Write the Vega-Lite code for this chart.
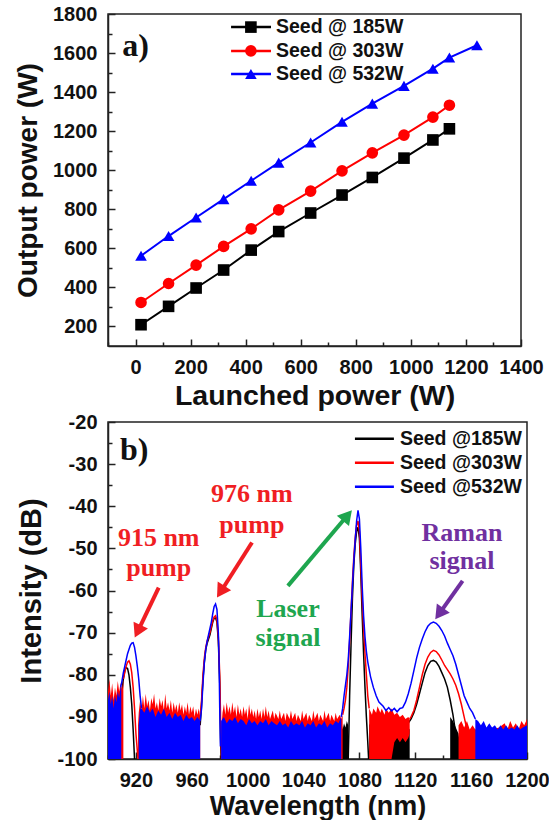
{
  "$schema": "https://vega.github.io/schema/vega-lite/v6.json",
  "background": "white",
  "padding": {"left": 13, "top": 3, "right": 0, "bottom": 0},
  "spacing": 76,
  "bounds": "flush",
  "config": {
    "view": {"stroke": "#222", "strokeWidth": 1.5},
    "axis": {"labelFont": "Liberation Sans", "labelFontSize": 20, "labelFontWeight": "bold", "labelColor": "#111", "titleFont": "Liberation Sans", "titleFontSize": 27, "titleFontWeight": "bold", "titleColor": "#111", "domainColor": "#222", "domainWidth": 1.5, "tickColor": "#222", "tickWidth": 1.5, "tickSize": -7, "labelPadding": 18, "grid": false, "labelFlush": false, "labelOverlap": false, "labelBound": false},
    "axisX": {"titlePadding": 3},
    "axisY": {"titlePadding": 10, "titleFontSize": 28}
  },
  "datasets": {
    "power": [
      {"launched": 20, "output": 209, "s": "185"}, {"launched": 120, "output": 303, "s": "185"}, {"launched": 220, "output": 397, "s": "185"}, {"launched": 320, "output": 489, "s": "185"}, {"launched": 420, "output": 591, "s": "185"}, {"launched": 520, "output": 686, "s": "185"}, {"launched": 636, "output": 781, "s": "185"}, {"launched": 750, "output": 873, "s": "185"}, {"launched": 860, "output": 963, "s": "185"}, {"launched": 975, "output": 1062, "s": "185"}, {"launched": 1080, "output": 1155, "s": "185"}, {"launched": 1140, "output": 1212, "s": "185"},
      {"launched": 20, "output": 323, "s": "303"}, {"launched": 120, "output": 420, "s": "303"}, {"launched": 220, "output": 514, "s": "303"}, {"launched": 320, "output": 610, "s": "303"}, {"launched": 420, "output": 700, "s": "303"}, {"launched": 520, "output": 797, "s": "303"}, {"launched": 636, "output": 893, "s": "303"}, {"launched": 750, "output": 997, "s": "303"}, {"launched": 860, "output": 1089, "s": "303"}, {"launched": 975, "output": 1180, "s": "303"}, {"launched": 1080, "output": 1272, "s": "303"}, {"launched": 1140, "output": 1333, "s": "303"},
      {"launched": 20, "output": 562, "s": "532"}, {"launched": 120, "output": 663, "s": "532"}, {"launched": 220, "output": 758, "s": "532"}, {"launched": 320, "output": 852, "s": "532"}, {"launched": 420, "output": 946, "s": "532"}, {"launched": 520, "output": 1039, "s": "532"}, {"launched": 636, "output": 1142, "s": "532"}, {"launched": 750, "output": 1248, "s": "532"}, {"launched": 860, "output": 1341, "s": "532"}, {"launched": 975, "output": 1432, "s": "532"}, {"launched": 1080, "output": 1520, "s": "532"}, {"launched": 1140, "output": 1577, "s": "532"}, {"launched": 1240, "output": 1640, "s": "532"}
    ],
    "keyA": [
      {"x1": 347, "x2": 492, "xm": 419, "xl": 510, "y": 1733, "s": "185", "label": "Seed @ 185W"},
      {"x1": 347, "x2": 492, "xm": 419, "xl": 510, "y": 1611, "s": "303", "label": "Seed @ 303W"},
      {"x1": 347, "x2": 492, "xm": 419, "xl": 510, "y": 1493, "s": "532", "label": "Seed @ 532W"}
    ],
    "keyB": [
      {"x1": 1076.8, "x2": 1104.7, "xl": 1109, "y": -24.0, "s": "185", "label": "Seed @185W"},
      {"x1": 1076.8, "x2": 1104.7, "xl": 1109, "y": -29.7, "s": "303", "label": "Seed @303W"},
      {"x1": 1076.8, "x2": 1104.7, "xl": 1109, "y": -35.4, "s": "532", "label": "Seed @532W"}
    ],
    "lines": [
      {"w":909,"d":-83,"s":"532","g":"b1"},{"w":910,"d":-81.5,"s":"532","g":"b1"},{"w":911,"d":-79.5,"s":"532","g":"b1"},{"w":912,"d":-78,"s":"532","g":"b1"},{"w":913,"d":-76.5,"s":"532","g":"b1"},{"w":914,"d":-75,"s":"532","g":"b1"},{"w":915,"d":-74,"s":"532","g":"b1"},{"w":916,"d":-73,"s":"532","g":"b1"},{"w":917,"d":-72.5,"s":"532","g":"b1"},{"w":918,"d":-72.4,"s":"532","g":"b1"},{"w":919,"d":-73.5,"s":"532","g":"b1"},{"w":920,"d":-75.5,"s":"532","g":"b1"},{"w":921,"d":-78,"s":"532","g":"b1"},{"w":922,"d":-81,"s":"532","g":"b1"},{"w":923,"d":-85,"s":"532","g":"b1"},{"w":924,"d":-88,"s":"532","g":"b1"},
      {"w":966,"d":-91,"s":"532","g":"b2"},{"w":967,"d":-88,"s":"532","g":"b2"},{"w":968,"d":-82,"s":"532","g":"b2"},{"w":969,"d":-77,"s":"532","g":"b2"},{"w":970,"d":-74,"s":"532","g":"b2"},{"w":971,"d":-72,"s":"532","g":"b2"},{"w":972,"d":-70.5,"s":"532","g":"b2"},{"w":973,"d":-69,"s":"532","g":"b2"},{"w":974,"d":-67.5,"s":"532","g":"b2"},{"w":975,"d":-65.5,"s":"532","g":"b2"},{"w":976,"d":-63.8,"s":"532","g":"b2"},{"w":977,"d":-63.2,"s":"532","g":"b2"},{"w":978,"d":-64.5,"s":"532","g":"b2"},{"w":979,"d":-70,"s":"532","g":"b2"},{"w":979.5,"d":-76,"s":"532","g":"b2"},{"w":980,"d":-88,"s":"532","g":"b2"},{"w":980.5,"d":-97,"s":"532","g":"b2"},
      {"w":1067,"d":-90,"s":"532","g":"b3"},{"w":1068,"d":-88,"s":"532","g":"b3"},{"w":1069,"d":-85,"s":"532","g":"b3"},{"w":1070,"d":-82.5,"s":"532","g":"b3"},{"w":1071,"d":-80,"s":"532","g":"b3"},{"w":1072,"d":-76.5,"s":"532","g":"b3"},{"w":1073,"d":-71,"s":"532","g":"b3"},{"w":1074,"d":-65,"s":"532","g":"b3"},{"w":1075,"d":-59,"s":"532","g":"b3"},{"w":1076,"d":-53,"s":"532","g":"b3"},{"w":1077,"d":-48,"s":"532","g":"b3"},{"w":1078,"d":-43.5,"s":"532","g":"b3"},{"w":1079,"d":-41,"s":"532","g":"b3"},{"w":1080,"d":-43,"s":"532","g":"b3"},{"w":1081,"d":-50,"s":"532","g":"b3"},{"w":1082,"d":-59,"s":"532","g":"b3"},{"w":1083,"d":-66,"s":"532","g":"b3"},{"w":1084,"d":-71,"s":"532","g":"b3"},{"w":1085,"d":-74.5,"s":"532","g":"b3"},{"w":1086,"d":-77,"s":"532","g":"b3"},{"w":1088,"d":-80.5,"s":"532","g":"b3"},{"w":1090,"d":-83,"s":"532","g":"b3"},{"w":1092,"d":-85,"s":"532","g":"b3"},{"w":1094,"d":-86.5,"s":"532","g":"b3"},{"w":1097,"d":-87.5,"s":"532","g":"b3"},{"w":1099,"d":-88.5,"s":"532","g":"b3"},{"w":1101,"d":-87.8,"s":"532","g":"b3"},{"w":1103,"d":-88.6,"s":"532","g":"b3"},{"w":1105,"d":-88,"s":"532","g":"b3"},{"w":1107,"d":-88.8,"s":"532","g":"b3"},{"w":1109,"d":-88,"s":"532","g":"b3"},{"w":1111,"d":-87.8,"s":"532","g":"b3"},{"w":1113,"d":-86.5,"s":"532","g":"b3"},{"w":1115,"d":-84.5,"s":"532","g":"b3"},{"w":1117,"d":-82,"s":"532","g":"b3"},{"w":1119,"d":-79,"s":"532","g":"b3"},{"w":1121,"d":-76,"s":"532","g":"b3"},{"w":1123,"d":-73.5,"s":"532","g":"b3"},{"w":1125,"d":-71.5,"s":"532","g":"b3"},{"w":1127,"d":-69.8,"s":"532","g":"b3"},{"w":1129,"d":-68.5,"s":"532","g":"b3"},{"w":1131,"d":-67.8,"s":"532","g":"b3"},{"w":1133,"d":-67.5,"s":"532","g":"b3"},{"w":1135,"d":-67.8,"s":"532","g":"b3"},{"w":1137,"d":-68.5,"s":"532","g":"b3"},{"w":1139,"d":-69.5,"s":"532","g":"b3"},{"w":1141,"d":-70.8,"s":"532","g":"b3"},{"w":1143,"d":-72.5,"s":"532","g":"b3"},{"w":1145,"d":-74,"s":"532","g":"b3"},{"w":1147,"d":-75.5,"s":"532","g":"b3"},{"w":1149,"d":-77.5,"s":"532","g":"b3"},{"w":1151,"d":-80,"s":"532","g":"b3"},{"w":1153,"d":-82.5,"s":"532","g":"b3"},{"w":1155,"d":-85,"s":"532","g":"b3"},{"w":1157,"d":-86.5,"s":"532","g":"b3"},{"w":1159,"d":-88,"s":"532","g":"b3"},{"w":1161,"d":-89,"s":"532","g":"b3"},{"w":1163,"d":-90.5,"s":"532","g":"b3"},
      {"w":911,"d":-81,"s":"303","g":"r1"},{"w":912,"d":-79.5,"s":"303","g":"r1"},{"w":913,"d":-78,"s":"303","g":"r1"},{"w":914,"d":-77,"s":"303","g":"r1"},{"w":915,"d":-76.7,"s":"303","g":"r1"},{"w":916,"d":-77.5,"s":"303","g":"r1"},{"w":917,"d":-79.5,"s":"303","g":"r1"},{"w":918,"d":-83,"s":"303","g":"r1"},{"w":919,"d":-88,"s":"303","g":"r1"},{"w":920,"d":-94,"s":"303","g":"r1"},{"w":921,"d":-98,"s":"303","g":"r1"},{"w":921.5,"d":-100,"s":"303","g":"r1"},
      {"w":966,"d":-90,"s":"303","g":"r2"},{"w":967,"d":-86,"s":"303","g":"r2"},{"w":968,"d":-80,"s":"303","g":"r2"},{"w":969,"d":-76,"s":"303","g":"r2"},{"w":970,"d":-73.5,"s":"303","g":"r2"},{"w":971,"d":-72,"s":"303","g":"r2"},{"w":972,"d":-71,"s":"303","g":"r2"},{"w":973,"d":-70,"s":"303","g":"r2"},{"w":974,"d":-68.5,"s":"303","g":"r2"},{"w":975,"d":-67.2,"s":"303","g":"r2"},{"w":976,"d":-66.3,"s":"303","g":"r2"},{"w":977,"d":-66,"s":"303","g":"r2"},{"w":978,"d":-67,"s":"303","g":"r2"},{"w":979,"d":-71,"s":"303","g":"r2"},{"w":980,"d":-80,"s":"303","g":"r2"},{"w":980.7,"d":-92,"s":"303","g":"r2"},{"w":981.3,"d":-100,"s":"303","g":"r2"},
      {"w":1068,"d":-89.5,"s":"303","g":"r3"},{"w":1069,"d":-88,"s":"303","g":"r3"},{"w":1070,"d":-86,"s":"303","g":"r3"},{"w":1071,"d":-83,"s":"303","g":"r3"},{"w":1072,"d":-78,"s":"303","g":"r3"},{"w":1073,"d":-72,"s":"303","g":"r3"},{"w":1074,"d":-65,"s":"303","g":"r3"},{"w":1075,"d":-58,"s":"303","g":"r3"},{"w":1076,"d":-52,"s":"303","g":"r3"},{"w":1077,"d":-47.5,"s":"303","g":"r3"},{"w":1078,"d":-44.5,"s":"303","g":"r3"},{"w":1079,"d":-43.5,"s":"303","g":"r3"},{"w":1080,"d":-46,"s":"303","g":"r3"},{"w":1081,"d":-54,"s":"303","g":"r3"},{"w":1082,"d":-62,"s":"303","g":"r3"},{"w":1083,"d":-69,"s":"303","g":"r3"},{"w":1084,"d":-75,"s":"303","g":"r3"},{"w":1085,"d":-80,"s":"303","g":"r3"},{"w":1086,"d":-85,"s":"303","g":"r3"},{"w":1087,"d":-88,"s":"303","g":"r3"},
      {"w":1116,"d":-90.5,"s":"303","g":"r4"},{"w":1117,"d":-90,"s":"303","g":"r4"},{"w":1119,"d":-88.5,"s":"303","g":"r4"},{"w":1121,"d":-86,"s":"303","g":"r4"},{"w":1123,"d":-83,"s":"303","g":"r4"},{"w":1125,"d":-80,"s":"303","g":"r4"},{"w":1127,"d":-77.5,"s":"303","g":"r4"},{"w":1129,"d":-75.8,"s":"303","g":"r4"},{"w":1131,"d":-74.7,"s":"303","g":"r4"},{"w":1133,"d":-74.2,"s":"303","g":"r4"},{"w":1135,"d":-74.5,"s":"303","g":"r4"},{"w":1137,"d":-75.3,"s":"303","g":"r4"},{"w":1139,"d":-76.5,"s":"303","g":"r4"},{"w":1141,"d":-77.8,"s":"303","g":"r4"},{"w":1143,"d":-78.8,"s":"303","g":"r4"},{"w":1145,"d":-79.8,"s":"303","g":"r4"},{"w":1147,"d":-81,"s":"303","g":"r4"},{"w":1149,"d":-82.5,"s":"303","g":"r4"},{"w":1151,"d":-84.5,"s":"303","g":"r4"},{"w":1153,"d":-87,"s":"303","g":"r4"},{"w":1155,"d":-90,"s":"303","g":"r4"},{"w":1157,"d":-93,"s":"303","g":"r4"},{"w":1159,"d":-96.5,"s":"303","g":"r4"},{"w":1161,"d":-100,"s":"303","g":"r4"},
      {"w":909,"d":-86,"s":"185","g":"k1"},{"w":910,"d":-84,"s":"185","g":"k1"},{"w":911,"d":-81,"s":"185","g":"k1"},{"w":912,"d":-79,"s":"185","g":"k1"},{"w":913,"d":-78.3,"s":"185","g":"k1"},{"w":914,"d":-78.5,"s":"185","g":"k1"},{"w":915,"d":-80,"s":"185","g":"k1"},{"w":916,"d":-83,"s":"185","g":"k1"},{"w":917,"d":-87,"s":"185","g":"k1"},{"w":918,"d":-93,"s":"185","g":"k1"},{"w":919,"d":-100,"s":"185","g":"k1"},
      {"w":966,"d":-92,"s":"185","g":"k2"},{"w":967,"d":-87,"s":"185","g":"k2"},{"w":968,"d":-81,"s":"185","g":"k2"},{"w":969,"d":-77,"s":"185","g":"k2"},{"w":970,"d":-74,"s":"185","g":"k2"},{"w":971,"d":-72.5,"s":"185","g":"k2"},{"w":972,"d":-71.5,"s":"185","g":"k2"},{"w":973,"d":-70.5,"s":"185","g":"k2"},{"w":974,"d":-69,"s":"185","g":"k2"},{"w":975,"d":-67.5,"s":"185","g":"k2"},{"w":976,"d":-66.6,"s":"185","g":"k2"},{"w":977,"d":-66.5,"s":"185","g":"k2"},{"w":978,"d":-67.5,"s":"185","g":"k2"},{"w":979,"d":-72,"s":"185","g":"k2"},{"w":980,"d":-82,"s":"185","g":"k2"},{"w":980.6,"d":-95,"s":"185","g":"k2"},{"w":981,"d":-100,"s":"185","g":"k2"},
      {"w":1072,"d":-100,"s":"185","g":"k3"},{"w":1072.5,"d":-93,"s":"185","g":"k3"},{"w":1073,"d":-85,"s":"185","g":"k3"},{"w":1074,"d":-73,"s":"185","g":"k3"},{"w":1075,"d":-62,"s":"185","g":"k3"},{"w":1076,"d":-54,"s":"185","g":"k3"},{"w":1077,"d":-49,"s":"185","g":"k3"},{"w":1078,"d":-46,"s":"185","g":"k3"},{"w":1079,"d":-45,"s":"185","g":"k3"},{"w":1080,"d":-47.5,"s":"185","g":"k3"},{"w":1081,"d":-56,"s":"185","g":"k3"},{"w":1082,"d":-66,"s":"185","g":"k3"},{"w":1083,"d":-75,"s":"185","g":"k3"},{"w":1084,"d":-83,"s":"185","g":"k3"},{"w":1085,"d":-90,"s":"185","g":"k3"},{"w":1086,"d":-96,"s":"185","g":"k3"},{"w":1086.6,"d":-100,"s":"185","g":"k3"},
      {"w":1114,"d":-93,"s":"185","g":"k4"},{"w":1115,"d":-91.5,"s":"185","g":"k4"},{"w":1117,"d":-90.5,"s":"185","g":"k4"},{"w":1119,"d":-89,"s":"185","g":"k4"},{"w":1121,"d":-87,"s":"185","g":"k4"},{"w":1123,"d":-84.5,"s":"185","g":"k4"},{"w":1125,"d":-82,"s":"185","g":"k4"},{"w":1127,"d":-79.5,"s":"185","g":"k4"},{"w":1129,"d":-77.8,"s":"185","g":"k4"},{"w":1131,"d":-76.8,"s":"185","g":"k4"},{"w":1133,"d":-76.6,"s":"185","g":"k4"},{"w":1135,"d":-77,"s":"185","g":"k4"},{"w":1137,"d":-78,"s":"185","g":"k4"},{"w":1139,"d":-79.5,"s":"185","g":"k4"},{"w":1141,"d":-81,"s":"185","g":"k4"},{"w":1143,"d":-83,"s":"185","g":"k4"},{"w":1145,"d":-86,"s":"185","g":"k4"},{"w":1147,"d":-89.5,"s":"185","g":"k4"},{"w":1149,"d":-94,"s":"185","g":"k4"},{"w":1151,"d":-100,"s":"185","g":"k4"}
    ],
    "floors": [
      {"w":900,"hi":-86,"lo":-100,"s":"532","g":"bf1"},{"w":901,"hi":-84,"lo":-100,"s":"532","g":"bf1"},{"w":902,"hi":-87,"lo":-100,"s":"532","g":"bf1"},{"w":903,"hi":-85,"lo":-100,"s":"532","g":"bf1"},{"w":904,"hi":-88,"lo":-100,"s":"532","g":"bf1"},{"w":905,"hi":-85,"lo":-100,"s":"532","g":"bf1"},{"w":906,"hi":-86.5,"lo":-100,"s":"532","g":"bf1"},{"w":907,"hi":-84,"lo":-100,"s":"532","g":"bf1"},{"w":908,"hi":-85.5,"lo":-100,"s":"532","g":"bf1"},{"w":909,"hi":-83,"lo":-100,"s":"532","g":"bf1"},{"w":909.5,"hi":-83,"lo":-100,"s":"532","g":"bf1"},
      {"w":922,"hi":-92,"lo":-100,"s":"532","g":"bf2"},{"w":923,"hi":-88,"lo":-100,"s":"532","g":"bf2"},{"w":924,"hi":-88,"lo":-100,"s":"532","g":"bf2"},{"w":926,"hi":-89,"lo":-100,"s":"532","g":"bf2"},{"w":928,"hi":-87.5,"lo":-100,"s":"532","g":"bf2"},{"w":930,"hi":-89,"lo":-100,"s":"532","g":"bf2"},{"w":932,"hi":-88,"lo":-100,"s":"532","g":"bf2"},{"w":934,"hi":-90,"lo":-100,"s":"532","g":"bf2"},{"w":936,"hi":-88.5,"lo":-100,"s":"532","g":"bf2"},{"w":938,"hi":-89.5,"lo":-100,"s":"532","g":"bf2"},{"w":940,"hi":-88,"lo":-100,"s":"532","g":"bf2"},{"w":942,"hi":-90,"lo":-100,"s":"532","g":"bf2"},{"w":944,"hi":-89,"lo":-100,"s":"532","g":"bf2"},{"w":946,"hi":-90.5,"lo":-100,"s":"532","g":"bf2"},{"w":948,"hi":-89,"lo":-100,"s":"532","g":"bf2"},{"w":950,"hi":-90,"lo":-100,"s":"532","g":"bf2"},{"w":952,"hi":-89.5,"lo":-100,"s":"532","g":"bf2"},{"w":954,"hi":-91,"lo":-100,"s":"532","g":"bf2"},{"w":956,"hi":-89.5,"lo":-100,"s":"532","g":"bf2"},{"w":958,"hi":-90.5,"lo":-100,"s":"532","g":"bf2"},{"w":960,"hi":-90,"lo":-100,"s":"532","g":"bf2"},{"w":962,"hi":-91,"lo":-100,"s":"532","g":"bf2"},{"w":964,"hi":-90,"lo":-100,"s":"532","g":"bf2"},{"w":966,"hi":-91,"lo":-100,"s":"532","g":"bf2"},
      {"w":981,"hi":-91,"lo":-100,"s":"532","g":"bf3"},{"w":983,"hi":-90,"lo":-100,"s":"532","g":"bf3"},{"w":985,"hi":-91.5,"lo":-100,"s":"532","g":"bf3"},{"w":987,"hi":-90.5,"lo":-100,"s":"532","g":"bf3"},{"w":989,"hi":-91,"lo":-100,"s":"532","g":"bf3"},{"w":991,"hi":-90,"lo":-100,"s":"532","g":"bf3"},{"w":993,"hi":-91.5,"lo":-100,"s":"532","g":"bf3"},{"w":995,"hi":-90.5,"lo":-100,"s":"532","g":"bf3"},{"w":997,"hi":-91,"lo":-100,"s":"532","g":"bf3"},{"w":999,"hi":-92,"lo":-100,"s":"532","g":"bf3"},{"w":1001,"hi":-90.5,"lo":-100,"s":"532","g":"bf3"},{"w":1003,"hi":-91.5,"lo":-100,"s":"532","g":"bf3"},{"w":1005,"hi":-91,"lo":-100,"s":"532","g":"bf3"},{"w":1007,"hi":-92,"lo":-100,"s":"532","g":"bf3"},{"w":1009,"hi":-91,"lo":-100,"s":"532","g":"bf3"},{"w":1011,"hi":-91.5,"lo":-100,"s":"532","g":"bf3"},{"w":1013,"hi":-90.5,"lo":-100,"s":"532","g":"bf3"},{"w":1015,"hi":-92,"lo":-100,"s":"532","g":"bf3"},{"w":1017,"hi":-91,"lo":-100,"s":"532","g":"bf3"},{"w":1019,"hi":-91.5,"lo":-100,"s":"532","g":"bf3"},{"w":1021,"hi":-92,"lo":-100,"s":"532","g":"bf3"},{"w":1023,"hi":-91,"lo":-100,"s":"532","g":"bf3"},{"w":1025,"hi":-92,"lo":-100,"s":"532","g":"bf3"},{"w":1027,"hi":-91.5,"lo":-100,"s":"532","g":"bf3"},{"w":1029,"hi":-92.5,"lo":-100,"s":"532","g":"bf3"},{"w":1031,"hi":-91,"lo":-100,"s":"532","g":"bf3"},{"w":1033,"hi":-92,"lo":-100,"s":"532","g":"bf3"},{"w":1035,"hi":-91.5,"lo":-100,"s":"532","g":"bf3"},{"w":1037,"hi":-92,"lo":-100,"s":"532","g":"bf3"},{"w":1039,"hi":-91,"lo":-100,"s":"532","g":"bf3"},{"w":1041,"hi":-92.5,"lo":-100,"s":"532","g":"bf3"},{"w":1043,"hi":-91.5,"lo":-100,"s":"532","g":"bf3"},{"w":1045,"hi":-92,"lo":-100,"s":"532","g":"bf3"},{"w":1047,"hi":-91,"lo":-100,"s":"532","g":"bf3"},{"w":1049,"hi":-92.5,"lo":-100,"s":"532","g":"bf3"},{"w":1051,"hi":-91.5,"lo":-100,"s":"532","g":"bf3"},{"w":1053,"hi":-92,"lo":-100,"s":"532","g":"bf3"},{"w":1055,"hi":-91,"lo":-100,"s":"532","g":"bf3"},{"w":1057,"hi":-92.5,"lo":-100,"s":"532","g":"bf3"},{"w":1059,"hi":-91.5,"lo":-100,"s":"532","g":"bf3"},{"w":1061,"hi":-92,"lo":-100,"s":"532","g":"bf3"},{"w":1063,"hi":-91,"lo":-100,"s":"532","g":"bf3"},{"w":1065,"hi":-91.5,"lo":-100,"s":"532","g":"bf3"},{"w":1067,"hi":-90,"lo":-100,"s":"532","g":"bf3"},
      {"w":1163,"hi":-90.5,"lo":-100,"s":"532","g":"bf4"},{"w":1165,"hi":-91,"lo":-100,"s":"532","g":"bf4"},{"w":1167,"hi":-92,"lo":-100,"s":"532","g":"bf4"},{"w":1169,"hi":-91,"lo":-100,"s":"532","g":"bf4"},{"w":1171,"hi":-92.5,"lo":-100,"s":"532","g":"bf4"},{"w":1173,"hi":-91.5,"lo":-100,"s":"532","g":"bf4"},{"w":1175,"hi":-92.5,"lo":-100,"s":"532","g":"bf4"},{"w":1177,"hi":-92,"lo":-100,"s":"532","g":"bf4"},{"w":1179,"hi":-93,"lo":-100,"s":"532","g":"bf4"},{"w":1181,"hi":-92,"lo":-100,"s":"532","g":"bf4"},{"w":1183,"hi":-93,"lo":-100,"s":"532","g":"bf4"},{"w":1185,"hi":-92,"lo":-100,"s":"532","g":"bf4"},{"w":1187,"hi":-93,"lo":-100,"s":"532","g":"bf4"},{"w":1189,"hi":-92.5,"lo":-100,"s":"532","g":"bf4"},{"w":1191,"hi":-93,"lo":-100,"s":"532","g":"bf4"},{"w":1193,"hi":-92,"lo":-100,"s":"532","g":"bf4"},{"w":1195,"hi":-93,"lo":-100,"s":"532","g":"bf4"},{"w":1197,"hi":-92.5,"lo":-100,"s":"532","g":"bf4"},{"w":1200,"hi":-92,"lo":-100,"s":"532","g":"bf4"},
      {"w":900,"hi":-84,"lo":-100,"s":"303","g":"rf1"},{"w":901,"hi":-81,"lo":-100,"s":"303","g":"rf1"},{"w":902,"hi":-85,"lo":-100,"s":"303","g":"rf1"},{"w":903,"hi":-82,"lo":-100,"s":"303","g":"rf1"},{"w":904,"hi":-86,"lo":-100,"s":"303","g":"rf1"},{"w":905,"hi":-83,"lo":-100,"s":"303","g":"rf1"},{"w":906,"hi":-85,"lo":-100,"s":"303","g":"rf1"},{"w":907,"hi":-81.5,"lo":-100,"s":"303","g":"rf1"},{"w":908,"hi":-84,"lo":-100,"s":"303","g":"rf1"},{"w":909,"hi":-82,"lo":-100,"s":"303","g":"rf1"},{"w":910,"hi":-83.5,"lo":-100,"s":"303","g":"rf1"},{"w":911,"hi":-81,"lo":-100,"s":"303","g":"rf1"},
      {"w":921.5,"hi":-92,"lo":-100,"s":"303","g":"rf2"},{"w":922,"hi":-89,"lo":-100,"s":"303","g":"rf2"},{"w":923,"hi":-86,"lo":-100,"s":"303","g":"rf2"},{"w":924,"hi":-88.5,"lo":-100,"s":"303","g":"rf2"},{"w":925,"hi":-85,"lo":-100,"s":"303","g":"rf2"},{"w":926,"hi":-88,"lo":-100,"s":"303","g":"rf2"},{"w":927,"hi":-84.5,"lo":-100,"s":"303","g":"rf2"},{"w":928,"hi":-87.5,"lo":-100,"s":"303","g":"rf2"},{"w":929,"hi":-86,"lo":-100,"s":"303","g":"rf2"},{"w":930,"hi":-88.5,"lo":-100,"s":"303","g":"rf2"},{"w":931,"hi":-85.5,"lo":-100,"s":"303","g":"rf2"},{"w":932,"hi":-87,"lo":-100,"s":"303","g":"rf2"},{"w":933,"hi":-84.5,"lo":-100,"s":"303","g":"rf2"},{"w":934,"hi":-88,"lo":-100,"s":"303","g":"rf2"},{"w":935,"hi":-86.5,"lo":-100,"s":"303","g":"rf2"},{"w":936,"hi":-88.5,"lo":-100,"s":"303","g":"rf2"},{"w":937,"hi":-85.5,"lo":-100,"s":"303","g":"rf2"},{"w":938,"hi":-87.5,"lo":-100,"s":"303","g":"rf2"},{"w":939,"hi":-86,"lo":-100,"s":"303","g":"rf2"},{"w":940,"hi":-88.5,"lo":-100,"s":"303","g":"rf2"},{"w":941,"hi":-84.5,"lo":-100,"s":"303","g":"rf2"},{"w":942,"hi":-88,"lo":-100,"s":"303","g":"rf2"},{"w":943,"hi":-86.5,"lo":-100,"s":"303","g":"rf2"},{"w":944,"hi":-88.5,"lo":-100,"s":"303","g":"rf2"},{"w":945,"hi":-86,"lo":-100,"s":"303","g":"rf2"},{"w":946,"hi":-89,"lo":-100,"s":"303","g":"rf2"},{"w":947,"hi":-86.5,"lo":-100,"s":"303","g":"rf2"},{"w":948,"hi":-88.5,"lo":-100,"s":"303","g":"rf2"},{"w":949,"hi":-87,"lo":-100,"s":"303","g":"rf2"},{"w":950,"hi":-89,"lo":-100,"s":"303","g":"rf2"},{"w":951,"hi":-86.5,"lo":-100,"s":"303","g":"rf2"},{"w":952,"hi":-88.5,"lo":-100,"s":"303","g":"rf2"},{"w":953,"hi":-87,"lo":-100,"s":"303","g":"rf2"},{"w":954,"hi":-89.5,"lo":-100,"s":"303","g":"rf2"},{"w":955,"hi":-87.5,"lo":-100,"s":"303","g":"rf2"},{"w":956,"hi":-89,"lo":-100,"s":"303","g":"rf2"},{"w":957,"hi":-86.5,"lo":-100,"s":"303","g":"rf2"},{"w":958,"hi":-89.5,"lo":-100,"s":"303","g":"rf2"},{"w":959,"hi":-87.5,"lo":-100,"s":"303","g":"rf2"},{"w":960,"hi":-89,"lo":-100,"s":"303","g":"rf2"},{"w":961,"hi":-87.5,"lo":-100,"s":"303","g":"rf2"},{"w":962,"hi":-90,"lo":-100,"s":"303","g":"rf2"},{"w":963,"hi":-88,"lo":-100,"s":"303","g":"rf2"},{"w":964,"hi":-89.5,"lo":-100,"s":"303","g":"rf2"},{"w":965,"hi":-88,"lo":-100,"s":"303","g":"rf2"},{"w":966,"hi":-90,"lo":-100,"s":"303","g":"rf2"},
      {"w":981.3,"hi":-92,"lo":-100,"s":"303","g":"rf3"},{"w":982,"hi":-89,"lo":-100,"s":"303","g":"rf3"},{"w":983,"hi":-87,"lo":-100,"s":"303","g":"rf3"},{"w":984,"hi":-89.5,"lo":-100,"s":"303","g":"rf3"},{"w":985,"hi":-86.5,"lo":-100,"s":"303","g":"rf3"},{"w":986,"hi":-89,"lo":-100,"s":"303","g":"rf3"},{"w":987,"hi":-87.5,"lo":-100,"s":"303","g":"rf3"},{"w":988,"hi":-89.5,"lo":-100,"s":"303","g":"rf3"},{"w":989,"hi":-86.5,"lo":-100,"s":"303","g":"rf3"},{"w":990,"hi":-89,"lo":-100,"s":"303","g":"rf3"},{"w":991,"hi":-87.5,"lo":-100,"s":"303","g":"rf3"},{"w":992,"hi":-90,"lo":-100,"s":"303","g":"rf3"},{"w":993,"hi":-87,"lo":-100,"s":"303","g":"rf3"},{"w":994,"hi":-89.5,"lo":-100,"s":"303","g":"rf3"},{"w":995,"hi":-88,"lo":-100,"s":"303","g":"rf3"},{"w":996,"hi":-90,"lo":-100,"s":"303","g":"rf3"},{"w":997,"hi":-87.5,"lo":-100,"s":"303","g":"rf3"},{"w":998,"hi":-89.5,"lo":-100,"s":"303","g":"rf3"},{"w":999,"hi":-88,"lo":-100,"s":"303","g":"rf3"},{"w":1000,"hi":-90.5,"lo":-100,"s":"303","g":"rf3"},{"w":1001,"hi":-87,"lo":-100,"s":"303","g":"rf3"},{"w":1002,"hi":-89.5,"lo":-100,"s":"303","g":"rf3"},{"w":1003,"hi":-88,"lo":-100,"s":"303","g":"rf3"},{"w":1004,"hi":-90,"lo":-100,"s":"303","g":"rf3"},{"w":1005,"hi":-88.5,"lo":-100,"s":"303","g":"rf3"},{"w":1006,"hi":-90.5,"lo":-100,"s":"303","g":"rf3"},{"w":1007,"hi":-88,"lo":-100,"s":"303","g":"rf3"},{"w":1008,"hi":-90,"lo":-100,"s":"303","g":"rf3"},{"w":1009,"hi":-88.5,"lo":-100,"s":"303","g":"rf3"},{"w":1010,"hi":-90.5,"lo":-100,"s":"303","g":"rf3"},{"w":1011,"hi":-88,"lo":-100,"s":"303","g":"rf3"},{"w":1012,"hi":-90,"lo":-100,"s":"303","g":"rf3"},{"w":1013,"hi":-87.5,"lo":-100,"s":"303","g":"rf3"},{"w":1014,"hi":-90,"lo":-100,"s":"303","g":"rf3"},{"w":1015,"hi":-88.5,"lo":-100,"s":"303","g":"rf3"},{"w":1016,"hi":-90.5,"lo":-100,"s":"303","g":"rf3"},{"w":1018,"hi":-88.5,"lo":-100,"s":"303","g":"rf3"},{"w":1019,"hi":-90.5,"lo":-100,"s":"303","g":"rf3"},{"w":1020,"hi":-89,"lo":-100,"s":"303","g":"rf3"},{"w":1022,"hi":-90.5,"lo":-100,"s":"303","g":"rf3"},{"w":1023,"hi":-88.5,"lo":-100,"s":"303","g":"rf3"},{"w":1024,"hi":-90.5,"lo":-100,"s":"303","g":"rf3"},{"w":1026,"hi":-89,"lo":-100,"s":"303","g":"rf3"},{"w":1027,"hi":-91,"lo":-100,"s":"303","g":"rf3"},{"w":1028,"hi":-89,"lo":-100,"s":"303","g":"rf3"},{"w":1030,"hi":-90.5,"lo":-100,"s":"303","g":"rf3"},{"w":1031,"hi":-88.5,"lo":-100,"s":"303","g":"rf3"},{"w":1032,"hi":-90.5,"lo":-100,"s":"303","g":"rf3"},{"w":1034,"hi":-89,"lo":-100,"s":"303","g":"rf3"},{"w":1035,"hi":-91,"lo":-100,"s":"303","g":"rf3"},{"w":1036,"hi":-89.5,"lo":-100,"s":"303","g":"rf3"},{"w":1038,"hi":-91,"lo":-100,"s":"303","g":"rf3"},{"w":1039,"hi":-88.5,"lo":-100,"s":"303","g":"rf3"},{"w":1040,"hi":-90.5,"lo":-100,"s":"303","g":"rf3"},{"w":1042,"hi":-89,"lo":-100,"s":"303","g":"rf3"},{"w":1043,"hi":-91,"lo":-100,"s":"303","g":"rf3"},{"w":1044,"hi":-89.5,"lo":-100,"s":"303","g":"rf3"},{"w":1046,"hi":-91,"lo":-100,"s":"303","g":"rf3"},{"w":1047,"hi":-88.5,"lo":-100,"s":"303","g":"rf3"},{"w":1048,"hi":-90.5,"lo":-100,"s":"303","g":"rf3"},{"w":1050,"hi":-89,"lo":-100,"s":"303","g":"rf3"},{"w":1051,"hi":-91,"lo":-100,"s":"303","g":"rf3"},{"w":1052,"hi":-89.5,"lo":-100,"s":"303","g":"rf3"},{"w":1054,"hi":-91,"lo":-100,"s":"303","g":"rf3"},{"w":1055,"hi":-88.5,"lo":-100,"s":"303","g":"rf3"},{"w":1056,"hi":-90.5,"lo":-100,"s":"303","g":"rf3"},{"w":1058,"hi":-89,"lo":-100,"s":"303","g":"rf3"},{"w":1059,"hi":-91,"lo":-100,"s":"303","g":"rf3"},{"w":1060,"hi":-89.5,"lo":-100,"s":"303","g":"rf3"},{"w":1062,"hi":-91,"lo":-100,"s":"303","g":"rf3"},{"w":1063,"hi":-89,"lo":-100,"s":"303","g":"rf3"},{"w":1064,"hi":-90.5,"lo":-100,"s":"303","g":"rf3"},{"w":1066,"hi":-89.5,"lo":-100,"s":"303","g":"rf3"},{"w":1067,"hi":-90.5,"lo":-100,"s":"303","g":"rf3"},{"w":1068,"hi":-89.5,"lo":-100,"s":"303","g":"rf3"},
      {"w":1087,"hi":-88,"lo":-100,"s":"303","g":"rf4"},{"w":1089,"hi":-89.5,"lo":-100,"s":"303","g":"rf4"},{"w":1090,"hi":-88,"lo":-100,"s":"303","g":"rf4"},{"w":1092,"hi":-89,"lo":-100,"s":"303","g":"rf4"},{"w":1093,"hi":-87.5,"lo":-100,"s":"303","g":"rf4"},{"w":1095,"hi":-89,"lo":-100,"s":"303","g":"rf4"},{"w":1096,"hi":-88,"lo":-100,"s":"303","g":"rf4"},{"w":1098,"hi":-89.5,"lo":-100,"s":"303","g":"rf4"},{"w":1099,"hi":-88,"lo":-100,"s":"303","g":"rf4"},{"w":1101,"hi":-89,"lo":-100,"s":"303","g":"rf4"},{"w":1103,"hi":-88,"lo":-100,"s":"303","g":"rf4"},{"w":1105,"hi":-89.5,"lo":-96,"s":"303","g":"rf4"},{"w":1107,"hi":-89,"lo":-95,"s":"303","g":"rf4"},{"w":1109,"hi":-90,"lo":-96,"s":"303","g":"rf4"},{"w":1111,"hi":-89.5,"lo":-95,"s":"303","g":"rf4"},{"w":1113,"hi":-90.5,"lo":-96,"s":"303","g":"rf4"},{"w":1115,"hi":-90,"lo":-95,"s":"303","g":"rf4"},{"w":1116,"hi":-90.5,"lo":-94,"s":"303","g":"rf4"},
      {"w":1151,"hi":-92,"lo":-100,"s":"303","g":"rf5"},{"w":1153,"hi":-91,"lo":-100,"s":"303","g":"rf5"},{"w":1155,"hi":-92.5,"lo":-100,"s":"303","g":"rf5"},{"w":1157,"hi":-91,"lo":-100,"s":"303","g":"rf5"},{"w":1159,"hi":-93,"lo":-100,"s":"303","g":"rf5"},{"w":1161,"hi":-92,"lo":-100,"s":"303","g":"rf5"},{"w":1163,"hi":-93,"lo":-100,"s":"303","g":"rf5"},{"w":1166,"hi":-92.5,"lo":-100,"s":"303","g":"rf5"},{"w":1170,"hi":-93,"lo":-100,"s":"303","g":"rf5"},{"w":1175,"hi":-93,"lo":-100,"s":"303","g":"rf5"},{"w":1180,"hi":-92.5,"lo":-100,"s":"303","g":"rf5"},{"w":1184,"hi":-91.5,"lo":-100,"s":"303","g":"rf5"},{"w":1186,"hi":-93,"lo":-100,"s":"303","g":"rf5"},{"w":1188,"hi":-91,"lo":-100,"s":"303","g":"rf5"},{"w":1190,"hi":-92.5,"lo":-100,"s":"303","g":"rf5"},{"w":1192,"hi":-91.5,"lo":-100,"s":"303","g":"rf5"},{"w":1194,"hi":-93,"lo":-100,"s":"303","g":"rf5"},{"w":1196,"hi":-91,"lo":-100,"s":"303","g":"rf5"},{"w":1198,"hi":-92,"lo":-100,"s":"303","g":"rf5"},{"w":1200,"hi":-90.5,"lo":-100,"s":"303","g":"rf5"},
      {"w":1066,"hi":-92,"lo":-100,"s":"185","g":"kf1"},{"w":1067,"hi":-91,"lo":-100,"s":"185","g":"kf1"},{"w":1068,"hi":-93,"lo":-100,"s":"185","g":"kf1"},{"w":1069,"hi":-91.5,"lo":-100,"s":"185","g":"kf1"},{"w":1070,"hi":-92.5,"lo":-100,"s":"185","g":"kf1"},{"w":1071,"hi":-91,"lo":-100,"s":"185","g":"kf1"},{"w":1072,"hi":-92,"lo":-100,"s":"185","g":"kf1"},
      {"w":1087,"hi":-92,"lo":-100,"s":"185","g":"kf2"},{"w":1089,"hi":-90.5,"lo":-100,"s":"185","g":"kf2"},{"w":1091,"hi":-92,"lo":-100,"s":"185","g":"kf2"},{"w":1093,"hi":-90,"lo":-100,"s":"185","g":"kf2"},{"w":1095,"hi":-91.5,"lo":-100,"s":"185","g":"kf2"},{"w":1097,"hi":-90.5,"lo":-100,"s":"185","g":"kf2"},{"w":1099,"hi":-92,"lo":-100,"s":"185","g":"kf2"},{"w":1101,"hi":-91,"lo":-100,"s":"185","g":"kf2"},{"w":1103,"hi":-92.5,"lo":-100,"s":"185","g":"kf2"},{"w":1105,"hi":-91,"lo":-100,"s":"185","g":"kf2"},{"w":1107,"hi":-92,"lo":-100,"s":"185","g":"kf2"},{"w":1109,"hi":-90.5,"lo":-100,"s":"185","g":"kf2"},{"w":1111,"hi":-92,"lo":-100,"s":"185","g":"kf2"},{"w":1113,"hi":-91,"lo":-100,"s":"185","g":"kf2"},{"w":1115,"hi":-92.5,"lo":-100,"s":"185","g":"kf2"},{"w":1116,"hi":-93,"lo":-100,"s":"185","g":"kf2"},
      {"w":1145,"hi":-90,"lo":-100,"s":"185","g":"kf3"},{"w":1147,"hi":-91,"lo":-100,"s":"185","g":"kf3"},{"w":1149,"hi":-92.5,"lo":-100,"s":"185","g":"kf3"},{"w":1151,"hi":-94,"lo":-100,"s":"185","g":"kf3"},{"w":1152,"hi":-97,"lo":-100,"s":"185","g":"kf3"}
    ],
    "notes": [
      {"w":936.3,"d":-47.6,"t":"915 nm","k":"pump"},{"w":936.3,"d":-54.6,"t":"pump","k":"pump"},
      {"w":1003,"d":-37,"t":"976 nm","k":"pump"},{"w":1003,"d":-44.5,"t":"pump","k":"pump"},
      {"w":1028.8,"d":-64.5,"t":"Laser","k":"laser"},{"w":1028.8,"d":-71.2,"t":"signal","k":"laser"},
      {"w":1153.4,"d":-46.3,"t":"Raman","k":"raman"},{"w":1153.4,"d":-53,"t":"signal","k":"raman"},
      {"w":918.8,"d":-26.6,"t":"b)","k":"tag"}
    ],
    "arrows": [
      {"w":936.3,"d":-59.3,"w2":921.3,"d2":-69.7,"a":205.6,"k":"pump"},
      {"w":1003.1,"d":-48.6,"w2":980.7,"d2":-60.3,"a":212.5,"k":"pump"},
      {"w":1028.8,"d":-58.9,"w2":1071.4,"d2":-42.2,"a":40.2,"k":"laser"},
      {"w":1153.9,"d":-57.7,"w2":1137.2,"d2":-65.5,"a":215.6,"k":"raman"}
    ]
  },
  "vconcat": [
    {
      "width": 413,
      "height": 332,
      "layer": [
        {
          "data": {"name": "power"},
          "mark": {"type": "line", "strokeWidth": 2},
          "encoding": {
            "x": {"field": "launched", "type": "quantitative", "scale": {"domain": [-100, 1400], "nice": false, "zero": false}, "axis": {"title": "Launched power (W)", "titleFontSize": 28.5, "titlePadding": 4, "orient": "bottom", "values": [0, 200, 400, 600, 800, 1000, 1200, 1400], "labelExpr": "'' + datum.value"}},
            "y": {"field": "output", "type": "quantitative", "scale": {"domain": [100, 1800], "nice": false, "zero": false}, "axis": {"title": "Output power (W)", "orient": "left", "values": [200, 400, 600, 800, 1000, 1200, 1400, 1600, 1800], "labelExpr": "'' + datum.value"}},
            "stroke": {"field": "s", "type": "nominal", "scale": {"domain": ["185", "303", "532"], "range": ["#000000", "#ff0000", "#0000ff"]}, "legend": null}
          }
        },
        {
          "data": {"name": "power"},
          "mark": {"type": "point", "filled": true, "opacity": 1, "size": 135},
          "encoding": {
            "x": {"field": "launched", "type": "quantitative", "scale": {"domain": [-100, 1400], "nice": false, "zero": false}, "axis": {"title": null, "orient": "bottom", "values": [-100, 100, 300, 500, 700, 900, 1100, 1300], "labels": false, "domain": false, "tickSize": -4}},
            "y": {"field": "output", "type": "quantitative", "scale": {"domain": [100, 1800], "nice": false, "zero": false}, "axis": {"title": null, "orient": "left", "values": [300, 500, 700, 900, 1100, 1300, 1500, 1700], "labels": false, "domain": false, "tickSize": -4}},
            "color": {"field": "s", "type": "nominal", "scale": {"domain": ["185", "303", "532"], "range": ["#000000", "#ff0000", "#0000ff"]}, "legend": null},
            "shape": {"field": "s", "type": "nominal", "scale": {"domain": ["185", "303", "532"], "range": ["square", "circle", "triangle-up"]}, "legend": null}
          }
        },
        {
          "data": {"name": "keyA"},
          "mark": {"type": "rule", "strokeWidth": 2.5},
          "encoding": {
            "x": {"field": "x1", "type": "quantitative", "scale": {"domain": [-100, 1400], "nice": false, "zero": false}, "axis": null},
            "x2": {"field": "x2"},
            "y": {"field": "y", "type": "quantitative", "scale": {"domain": [100, 1800], "nice": false, "zero": false}, "axis": null},
            "stroke": {"field": "s", "type": "nominal", "scale": {"domain": ["185", "303", "532"], "range": ["#000000", "#ff0000", "#0000ff"]}, "legend": null}
          }
        },
        {
          "data": {"name": "keyA"},
          "mark": {"type": "point", "filled": true, "opacity": 1, "size": 135},
          "encoding": {
            "x": {"field": "xm", "type": "quantitative", "scale": {"domain": [-100, 1400], "nice": false, "zero": false}, "axis": null},
            "y": {"field": "y", "type": "quantitative", "scale": {"domain": [100, 1800], "nice": false, "zero": false}, "axis": null},
            "color": {"field": "s", "type": "nominal", "scale": {"domain": ["185", "303", "532"], "range": ["#000000", "#ff0000", "#0000ff"]}, "legend": null},
            "shape": {"field": "s", "type": "nominal", "scale": {"domain": ["185", "303", "532"], "range": ["square", "circle", "triangle-up"]}, "legend": null}
          }
        },
        {
          "data": {"name": "keyA"},
          "mark": {"type": "text", "font": "Liberation Sans", "fontWeight": "bold", "fontSize": 19.5, "color": "#111", "align": "left", "baseline": "middle"},
          "encoding": {
            "x": {"field": "xl", "type": "quantitative", "scale": {"domain": [-100, 1400], "nice": false, "zero": false}, "axis": null},
            "y": {"field": "y", "type": "quantitative", "scale": {"domain": [100, 1800], "nice": false, "zero": false}, "axis": null},
            "text": {"field": "label"}
          }
        },
        {
          "data": {"values": [{"px": 0, "py": 1634, "t": "a)"}]},
          "mark": {"type": "text", "font": "Liberation Serif", "fontWeight": "bold", "fontSize": 32, "color": "#111", "align": "center", "baseline": "middle"},
          "encoding": {
            "x": {"field": "px", "type": "quantitative", "scale": {"domain": [-100, 1400], "nice": false, "zero": false}, "axis": null},
            "y": {"field": "py", "type": "quantitative", "scale": {"domain": [100, 1800], "nice": false, "zero": false}, "axis": null},
            "text": {"field": "t"}
          }
        }
      ],
      "resolve": {"axis": {"x": "independent", "y": "independent"}}
    },
    {
      "width": 419,
      "height": 337,
      "layer": [
        {
          "data": {"name": "floors"},
          "transform": [{"filter": "datum.s === '185'"}],
          "mark": {"type": "area", "clip": true, "opacity": 1},
          "encoding": {
            "x": {"field": "w", "type": "quantitative", "scale": {"domain": [900, 1200], "nice": false, "zero": false}, "axis": {"title": "Wavelength (nm)", "titleFontSize": 27, "orient": "bottom", "values": [920, 960, 1000, 1040, 1080, 1120, 1160, 1200], "labelExpr": "'' + datum.value"}},
            "y": {"field": "hi", "type": "quantitative", "scale": {"domain": [-100, -20], "nice": false, "zero": false}, "axis": {"title": "Intensity (dB)", "titleFontSize": 29, "orient": "left", "values": [-100, -90, -80, -70, -60, -50, -40, -30, -20], "labelExpr": "'' + datum.value"}},
            "y2": {"field": "lo"},
            "detail": {"field": "g"},
            "fill": {"field": "s", "type": "nominal", "scale": {"domain": ["185", "303", "532"], "range": ["#000000", "#ff0000", "#0000ff"]}, "legend": null}
          }
        },
        {
          "data": {"name": "lines"},
          "transform": [{"filter": "datum.s === '185'"}],
          "mark": {"type": "line", "clip": true, "strokeWidth": 1.5},
          "encoding": {
            "x": {"field": "w", "type": "quantitative", "scale": {"domain": [900, 1200], "nice": false, "zero": false}, "axis": {"title": null, "orient": "bottom", "values": [900, 940, 980, 1020, 1060, 1100, 1140, 1180], "labels": false, "domain": false, "tickSize": -4}},
            "y": {"field": "d", "type": "quantitative", "scale": {"domain": [-100, -20], "nice": false, "zero": false}, "axis": {"title": null, "orient": "left", "values": [-95, -85, -75, -65, -55, -45, -35, -25], "labels": false, "domain": false, "tickSize": -4}},
            "detail": {"field": "g"},
            "stroke": {"field": "s", "type": "nominal", "scale": {"domain": ["185", "303", "532"], "range": ["#000000", "#ff0000", "#0000ff"]}, "legend": null}
          }
        },
        {
          "data": {"name": "floors"},
          "transform": [{"filter": "datum.s === '303'"}],
          "mark": {"type": "area", "clip": true, "opacity": 1},
          "encoding": {
            "x": {"field": "w", "type": "quantitative", "scale": {"domain": [900, 1200], "nice": false, "zero": false}, "axis": null},
            "y": {"field": "hi", "type": "quantitative", "scale": {"domain": [-100, -20], "nice": false, "zero": false}, "axis": null},
            "y2": {"field": "lo"},
            "detail": {"field": "g"},
            "fill": {"field": "s", "type": "nominal", "scale": {"domain": ["185", "303", "532"], "range": ["#000000", "#ff0000", "#0000ff"]}, "legend": null}
          }
        },
        {
          "data": {"name": "lines"},
          "transform": [{"filter": "datum.s === '303'"}],
          "mark": {"type": "line", "clip": true, "strokeWidth": 1.5},
          "encoding": {
            "x": {"field": "w", "type": "quantitative", "scale": {"domain": [900, 1200], "nice": false, "zero": false}, "axis": null},
            "y": {"field": "d", "type": "quantitative", "scale": {"domain": [-100, -20], "nice": false, "zero": false}, "axis": null},
            "detail": {"field": "g"},
            "stroke": {"field": "s", "type": "nominal", "scale": {"domain": ["185", "303", "532"], "range": ["#000000", "#ff0000", "#0000ff"]}, "legend": null}
          }
        },
        {
          "data": {"name": "floors"},
          "transform": [{"filter": "datum.s === '532'"}],
          "mark": {"type": "area", "clip": true, "opacity": 1},
          "encoding": {
            "x": {"field": "w", "type": "quantitative", "scale": {"domain": [900, 1200], "nice": false, "zero": false}, "axis": null},
            "y": {"field": "hi", "type": "quantitative", "scale": {"domain": [-100, -20], "nice": false, "zero": false}, "axis": null},
            "y2": {"field": "lo"},
            "detail": {"field": "g"},
            "fill": {"field": "s", "type": "nominal", "scale": {"domain": ["185", "303", "532"], "range": ["#000000", "#ff0000", "#0000ff"]}, "legend": null}
          }
        },
        {
          "data": {"name": "lines"},
          "transform": [{"filter": "datum.s === '532'"}],
          "mark": {"type": "line", "clip": true, "strokeWidth": 1.5},
          "encoding": {
            "x": {"field": "w", "type": "quantitative", "scale": {"domain": [900, 1200], "nice": false, "zero": false}, "axis": null},
            "y": {"field": "d", "type": "quantitative", "scale": {"domain": [-100, -20], "nice": false, "zero": false}, "axis": null},
            "detail": {"field": "g"},
            "stroke": {"field": "s", "type": "nominal", "scale": {"domain": ["185", "303", "532"], "range": ["#000000", "#ff0000", "#0000ff"]}, "legend": null}
          }
        },
        {
          "data": {"name": "keyB"},
          "mark": {"type": "rule", "strokeWidth": 2.5},
          "encoding": {
            "x": {"field": "x1", "type": "quantitative", "scale": {"domain": [900, 1200], "nice": false, "zero": false}, "axis": null},
            "x2": {"field": "x2"},
            "y": {"field": "y", "type": "quantitative", "scale": {"domain": [-100, -20], "nice": false, "zero": false}, "axis": null},
            "stroke": {"field": "s", "type": "nominal", "scale": {"domain": ["185", "303", "532"], "range": ["#000000", "#ff0000", "#0000ff"]}, "legend": null}
          }
        },
        {
          "data": {"name": "keyB"},
          "mark": {"type": "text", "font": "Liberation Sans", "fontWeight": "bold", "fontSize": 19.5, "color": "#111", "align": "left", "baseline": "middle"},
          "encoding": {
            "x": {"field": "xl", "type": "quantitative", "scale": {"domain": [900, 1200], "nice": false, "zero": false}, "axis": null},
            "y": {"field": "y", "type": "quantitative", "scale": {"domain": [-100, -20], "nice": false, "zero": false}, "axis": null},
            "text": {"field": "label"}
          }
        },
        {
          "data": {"name": "arrows"},
          "transform": [{"filter": "datum.k === 'pump'"}],
          "layer": [
            {"mark": {"type": "rule", "color": "#f01e23", "strokeWidth": 4},
             "encoding": {"x": {"field": "w", "type": "quantitative", "scale": {"domain": [900, 1200]}, "axis": null}, "y": {"field": "d", "type": "quantitative", "scale": {"domain": [-100, -20]}, "axis": null}, "x2": {"field": "w2"}, "y2": {"field": "d2"}}},
            {"mark": {"type": "point", "shape": "triangle-up", "filled": true, "size": 256, "color": "#f01e23", "opacity": 1},
             "encoding": {"x": {"field": "w2", "type": "quantitative", "scale": {"domain": [900, 1200]}, "axis": null}, "y": {"field": "d2", "type": "quantitative", "scale": {"domain": [-100, -20]}, "axis": null}, "angle": {"field": "a", "type": "quantitative", "scale": null}}}
          ]
        },
        {
          "data": {"name": "arrows"},
          "transform": [{"filter": "datum.k === 'laser'"}],
          "layer": [
            {"mark": {"type": "rule", "color": "#1ea64f", "strokeWidth": 4},
             "encoding": {"x": {"field": "w", "type": "quantitative", "scale": {"domain": [900, 1200]}, "axis": null}, "y": {"field": "d", "type": "quantitative", "scale": {"domain": [-100, -20]}, "axis": null}, "x2": {"field": "w2"}, "y2": {"field": "d2"}}},
            {"mark": {"type": "point", "shape": "triangle-up", "filled": true, "size": 256, "color": "#1ea64f", "opacity": 1},
             "encoding": {"x": {"field": "w2", "type": "quantitative", "scale": {"domain": [900, 1200]}, "axis": null}, "y": {"field": "d2", "type": "quantitative", "scale": {"domain": [-100, -20]}, "axis": null}, "angle": {"field": "a", "type": "quantitative", "scale": null}}}
          ]
        },
        {
          "data": {"name": "arrows"},
          "transform": [{"filter": "datum.k === 'raman'"}],
          "layer": [
            {"mark": {"type": "rule", "color": "#7030a0", "strokeWidth": 4},
             "encoding": {"x": {"field": "w", "type": "quantitative", "scale": {"domain": [900, 1200]}, "axis": null}, "y": {"field": "d", "type": "quantitative", "scale": {"domain": [-100, -20]}, "axis": null}, "x2": {"field": "w2"}, "y2": {"field": "d2"}}},
            {"mark": {"type": "point", "shape": "triangle-up", "filled": true, "size": 256, "color": "#7030a0", "opacity": 1},
             "encoding": {"x": {"field": "w2", "type": "quantitative", "scale": {"domain": [900, 1200]}, "axis": null}, "y": {"field": "d2", "type": "quantitative", "scale": {"domain": [-100, -20]}, "axis": null}, "angle": {"field": "a", "type": "quantitative", "scale": null}}}
          ]
        },
        {
          "data": {"name": "notes"},
          "transform": [{"filter": "datum.k === 'pump'"}],
          "mark": {"type": "text", "font": "Liberation Serif", "fontWeight": "bold", "fontSize": 26, "color": "#f01e23", "align": "center", "baseline": "middle"},
          "encoding": {"x": {"field": "w", "type": "quantitative", "scale": {"domain": [900, 1200]}, "axis": null}, "y": {"field": "d", "type": "quantitative", "scale": {"domain": [-100, -20]}, "axis": null}, "text": {"field": "t"}}
        },
        {
          "data": {"name": "notes"},
          "transform": [{"filter": "datum.k === 'laser'"}],
          "mark": {"type": "text", "font": "Liberation Serif", "fontWeight": "bold", "fontSize": 26, "color": "#1ea64f", "align": "center", "baseline": "middle"},
          "encoding": {"x": {"field": "w", "type": "quantitative", "scale": {"domain": [900, 1200]}, "axis": null}, "y": {"field": "d", "type": "quantitative", "scale": {"domain": [-100, -20]}, "axis": null}, "text": {"field": "t"}}
        },
        {
          "data": {"name": "notes"},
          "transform": [{"filter": "datum.k === 'raman'"}],
          "mark": {"type": "text", "font": "Liberation Serif", "fontWeight": "bold", "fontSize": 26, "color": "#7030a0", "align": "center", "baseline": "middle"},
          "encoding": {"x": {"field": "w", "type": "quantitative", "scale": {"domain": [900, 1200]}, "axis": null}, "y": {"field": "d", "type": "quantitative", "scale": {"domain": [-100, -20]}, "axis": null}, "text": {"field": "t"}}
        },
        {
          "data": {"name": "notes"},
          "transform": [{"filter": "datum.k === 'tag'"}],
          "mark": {"type": "text", "font": "Liberation Serif", "fontWeight": "bold", "fontSize": 32, "color": "#111", "align": "center", "baseline": "middle"},
          "encoding": {"x": {"field": "w", "type": "quantitative", "scale": {"domain": [900, 1200]}, "axis": null}, "y": {"field": "d", "type": "quantitative", "scale": {"domain": [-100, -20]}, "axis": null}, "text": {"field": "t"}}
        }
      ],
      "resolve": {"axis": {"x": "independent", "y": "independent"}}
    }
  ],
  "resolve": {"scale": {"color": "independent", "shape": "independent", "stroke": "independent", "fill": "independent"}}
}
